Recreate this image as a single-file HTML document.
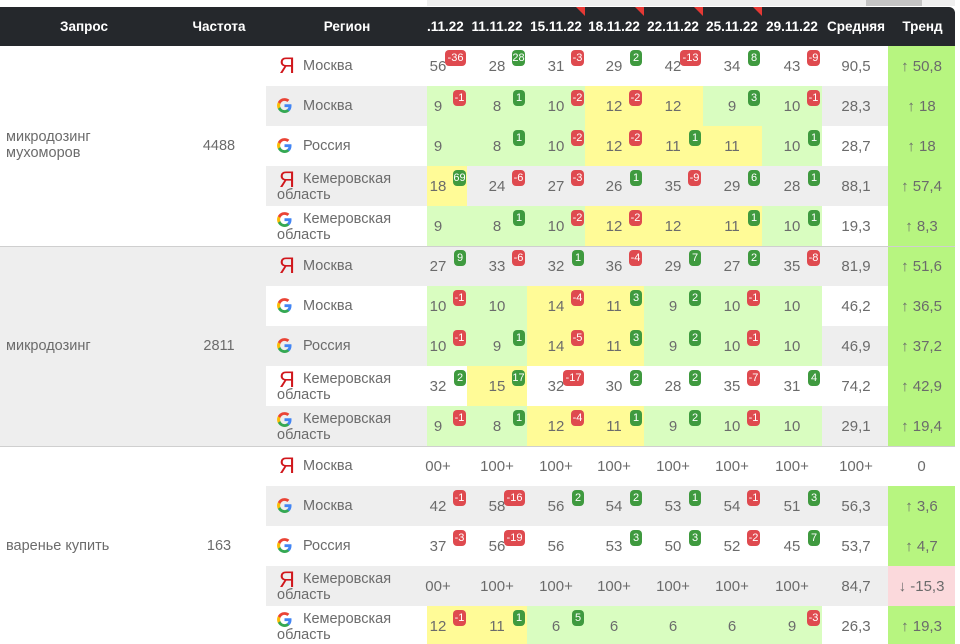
<!DOCTYPE html>
<html><head><meta charset="utf-8">
<style>
html,body{margin:0;padding:0;background:#fff;}
#root{position:relative;width:960px;height:644px;overflow:hidden;font-family:"Liberation Sans","DejaVu Sans",sans-serif;color:#6b6b6b;}
.abs{position:absolute;}
.hdr{position:absolute;top:7px;left:0;width:955px;height:39px;background:#25282c;border-top-right-radius:6px;}
.ht{position:absolute;top:7px;height:39px;line-height:39px;color:#fff;font-weight:bold;font-size:13.5px;text-align:center;white-space:nowrap;}
.cell{position:absolute;height:40px;}
.num{position:absolute;font-size:15px;line-height:17px;text-align:center;white-space:nowrap;}
.badge{position:absolute;height:16px;line-height:16px;border-radius:4px;color:#fff;font-size:11px;text-align:center;padding:0;}
.reg{position:absolute;font-size:14.5px;line-height:16px;color:#6b6b6b;}
.ya{position:absolute;color:#d0171c;font-size:22px;line-height:22px;}
</style></head>
<body>
<div id="root">
  <div class="abs" style="left:427px;top:0;width:528px;height:6px;background:#efefef"></div>
  <div class="abs" style="left:866px;top:0;width:56px;height:6px;background:#c4c4c4"></div>
  <div class="hdr"></div>
</div>
<script>
var dates = [".11.22","11.11.22","15.11.22","18.11.22","22.11.22","25.11.22","29.11.22"];
var queries = ["микродозинг мухоморов","микродозинг","варенье купить"];
var freqs = ["4488","2811","163"];
var engines = ["y","g","g","y","g","y","g","g","y","g","y","g","g","y","g"];
var regions = ["Москва","Москва","Россия","Кемеровская область","Кемеровская область","Москва","Москва","Россия","Кемеровская область","Кемеровская область","Москва","Москва","Россия","Кемеровская область","Кемеровская область"];
var positions = [
 ["56","28","31","29","42","34","43"],
 ["9","8","10","12","12","9","10"],
 ["9","8","10","12","11","11","10"],
 ["18","24","27","26","35","29","28"],
 ["9","8","10","12","12","11","10"],
 ["27","33","32","36","29","27","35"],
 ["10","10","14","11","9","10","10"],
 ["10","9","14","11","9","10","10"],
 ["32","15","32","30","28","35","31"],
 ["9","8","12","11","9","10","10"],
 ["00+","100+","100+","100+","100+","100+","100+"],
 ["42","58","56","54","53","54","51"],
 ["37","56","56","53","50","52","45"],
 ["00+","100+","100+","100+","100+","100+","100+"],
 ["12","11","6","6","6","6","9"]
];
var deltas = [
 [-36,28,-3,2,-13,8,-9],
 [-1,1,-2,-2,null,3,-1],
 [null,1,-2,-2,1,null,1],
 [69,-6,-3,1,-9,6,1],
 [null,1,-2,-2,null,1,1],
 [9,-6,1,-4,7,2,-8],
 [-1,null,-4,3,2,-1,null],
 [-1,1,-5,3,2,-1,null],
 [2,17,-17,2,2,-7,4],
 [-1,1,-4,1,2,-1,null],
 [null,null,null,null,null,null,null],
 [-1,-16,2,2,1,-1,3],
 [-3,-19,null,3,3,-2,7],
 [null,null,null,null,null,null,null],
 [-1,1,5,null,null,null,-3]
];
var cellColors = [
 "-------","gggyygg","gggyyyg","y------","gggyyyg",
 "-------","ggyyggg","ggyyggg","-y-----","ggyyggg",
 "-------","-------","-------","-------","yyggggg"
];
var averages = ["90,5","28,3","28,7","88,1","19,3","81,9","46,2","46,9","74,2","29,1","100+","56,3","53,7","84,7","26,3"];
var trends = ["↑ 50,8","↑ 18","↑ 18","↑ 57,4","↑ 8,3","↑ 51,6","↑ 36,5","↑ 37,2","↑ 42,9","↑ 19,4","0","↑ 3,6","↑ 4,7","↓ -15,3","↑ 19,3"];

var root = document.getElementById('root');
var colL = [427,467,527,585,644,703,762];
var colR = [467,527,585,644,703,762,822];
var colC = [438,497,556,614,673,732,792];
var TOP = 46, RH = 40;
function mk(cls, css, txt){var d=document.createElement('div');if(cls)d.className=cls;d.style.cssText=css;if(txt!=null)d.textContent=txt;root.appendChild(d);return d;}

var h;
h = mk('ht','left:0;width:168px;','Запрос');


h = mk('ht','left:170px;width:98px;','Частота');


h = mk('ht','left:280px;width:134px;','Регион');


dates.forEach(function(d,i){
  var e = mk('ht', i==0 ? 'left:427px;text-align:left;' : 'left:'+(colC[i]-30)+'px;width:60px;', d);
  
  
  if(i>=2 && i<=5){
    var t = mk('', 'position:absolute;left:'+(colR[i]-9)+'px;top:7px;width:0;height:0;border-top:9px solid #e53935;border-left:9px solid transparent;');
    
    
  }
});
h = mk('ht','left:822px;width:68px;','Средняя');


h = mk('ht','left:890px;width:65px;','Тренд');



queries.forEach(function(q,g){
  var y = TOP + g*5*RH;
  var bg = g==1 ? '#eeeeee' : '#fff';
  var c = mk('cell','left:0;top:'+y+'px;width:266px;height:'+(5*RH)+'px;background:'+bg+';');
  
  
  var words = q.split(' ');
  var twoLine = q.length > 14;
  var qt = mk('reg','left:6px;top:'+(y+100-(twoLine?17:8))+'px;width:140px;', twoLine ? null : q);
  if(twoLine){ qt.innerHTML = words[0]+'<br>'+words.slice(1).join(' '); }
  
  
  var ft = mk('reg','left:190px;top:'+(y+92)+'px;width:58px;text-align:center;', freqs[g]);
  
  
});

var gsvg = '<svg width="17" height="17" viewBox="0 0 16 16"><path d="M14.6 8.2c0-.5 0-1-.1-1.4H8v2.7h3.7c-.2.9-.7 1.6-1.4 2.1v1.7h2.3c1.3-1.2 2-3 2-5.1z" fill="#4285F4"/><path d="M8 15c1.9 0 3.5-.6 4.6-1.7l-2.3-1.7c-.6.4-1.4.7-2.3.7-1.8 0-3.3-1.2-3.900-2.9H1.8v1.8C3 13.5 5.3 15 8 15z" fill="#34A853"/><path d="M4.1 9.4C4 9 3.9 8.5 3.9 8s.1-1 .2-1.4V4.8H1.8C1.3 5.8 1 6.9 1 8s.3 2.2.8 3.2l2.3-1.8z" fill="#FBBC05"/><path d="M8 3.7c1 0 1.9.4 2.6 1l2-2C11.5 1.600 9.9 1 8 1 5.3 1 3 2.5 1.8 4.8l2.3 1.8C4.7 4.9 6.2 3.7 8 3.7z" fill="#EA4335"/></svg>';

for(var r=0;r<15;r++){
  var y = TOP + r*RH;
  var rowBg = (r%2==1) ? '#eeeeee' : '#ffffff';
  var rb = mk('cell','left:266px;top:'+y+'px;width:689px;background:'+rowBg+';');
  
  
  var two = regions[r].length>10;
  if(engines[r]=='y'){
    var ic = mk('ya','left:279px;top:'+(y+(two?3:9))+'px;','Я');
    
    
  } else {
    var ic = mk('','position:absolute;left:276px;top:'+(y+(two?5:11))+'px;width:17px;height:17px;');
    ic.innerHTML = gsvg;
    
    
  }
  var parts = regions[r].split(' ');
  if(parts.length>1){
    var l1 = mk('reg','left:303px;top:'+(y+5)+'px;',parts[0]);
    
    
    var l2 = mk('reg','left:277px;top:'+(y+21)+'px;',parts[1]);
    
    
  } else {
    var l1 = mk('reg','left:303px;top:'+(y+12)+'px;',regions[r]);
    
    
  }
  for(var c=0;c<7;c++){
    var col = cellColors[r][c];
    if(col!='-'){
      var cb = mk('cell','left:'+colL[c]+'px;top:'+y+'px;width:'+(colR[c]-colL[c])+'px;background:'+(col=='g'?'#d9fdc0':'#fffb97')+';');
      
      
    }
    var n = mk('num','left:'+(colC[c]-25)+'px;width:50px;top:'+(y+12)+'px;',positions[r][c]);
    
    
    var dv = deltas[r][c];
    if(dv!==null){
      var txt = String(dv);
      var w = txt.length==1 ? 12 : (txt.length==2 ? 13 : 21);
      var b = mk('badge','left:'+(colC[c]+28-w)+'px;width:'+w+'px;top:'+(y+4)+'px;background:'+(dv<0?'#df4a4f':'#3f9a3f')+';',txt);
      
      
    }
  }
  var av = mk('num','left:826px;width:60px;top:'+(y+12)+'px;',averages[r]);
  
  
  var tv = trends[r];
  var tbg = tv.indexOf('↑')==0 ? '#b7f580' : (tv.indexOf('↓')==0 ? '#fbd9dc' : rowBg);
  var tc = mk('cell','left:888px;top:'+y+'px;width:67px;background:'+tbg+';');
  
  
  var tt = mk('num','left:888px;width:67px;top:'+(y+12)+'px;',tv);
  
  
}
[246,446].forEach(function(yy){
  var s = mk('','position:absolute;left:0;top:'+yy+'px;width:955px;height:1px;background:#cfcfcf;');
  
  
});
</script>
</body></html>
